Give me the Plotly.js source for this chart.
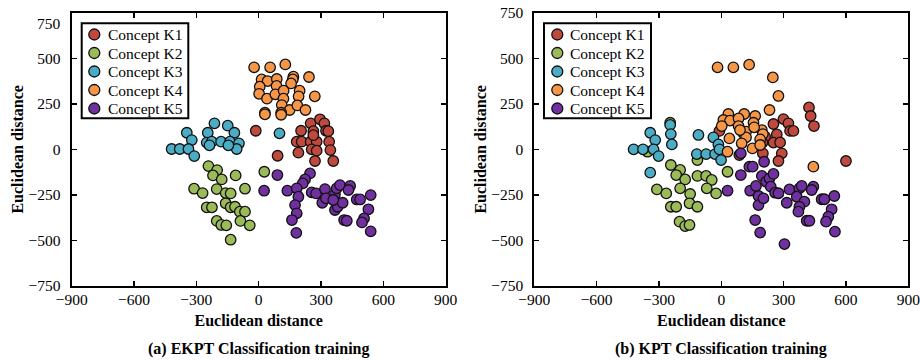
<!DOCTYPE html>
<html>
<head>
<meta charset="utf-8">
<script src="https://cdn.plot.ly/plotly-3.0.1.min.js"></script>
<style>html,body{margin:0;padding:0;background:#fff;}#chart{width:921px;height:361px;}</style>
</head>
<body>
<div id="chart"></div>
<script>
// ---------- DATA ----------
const concepts = ['Concept K1', 'Concept K2', 'Concept K3', 'Concept K4', 'Concept K5'];
const xTicks = [-900, -600, -300, 0, 300, 600, 900];
const yTicksLeft = [-750, -500, -250, 0, 250, 500];
const yTicksRight = [-750, -500, -250, 0, 250, 500, 750];
const captions = ['(a) EKPT Classification training', '(b) KPT Classification training'];
const axisTitle = 'Euclidean distance';

// (a) EKPT
const ekptK1x = [250, 295, 316, 204, 263, 324, 335, 183, 207, 250, 279, 339, 191, 255, 279, 345, 271, 359, 91, -14, 263];
const ekptK1y = [143, 165, 143, 102, 100, 102, 100, 42, 42, 42, 42, 42, -18, 0, -7, -4, -64, -64, -35, 102, 78];
const ekptK2x = [-242, -200, -220, -178, -111, -311, -270, -202, -159, -135, -66, -159, -135, -114, -91, -66, -250, -225, -202, -180, -156, -88, -43, -135, 27];
const ekptK2y = [-92, -114, -143, -165, -143, -216, -240, -218, -240, -242, -216, -296, -318, -315, -342, -342, -318, -318, -393, -415, -417, -393, -417, -496, -123];
const ekptK3x = [-213, -149, -117, -346, -245, -322, -419, -380, -338, -310, -250, -226, -181, -138, -95, -106, 100, -237, -146];
const ekptK3y = [143, 130, 91, 91, 91, 51, 2, 2, 2, -37, 37, 42, 42, 42, 33, 2, 88, 22, 22];
const ekptK4x = [-22, 55, 128, 167, 164, 242, 14, 43, 87, 5, 86, 156, 197, 2, 40, 80, 120, 192, 270, 119, 111, 149, 186, 225, 30, 30, 108, 108];
const ekptK4y = [450, 450, 466, 399, 384, 397, 384, 375, 386, 344, 348, 362, 322, 305, 278, 302, 322, 291, 291, 278, 243, 216, 241, 216, 201, 192, 201, 190];
const ekptK5x = [90, 26, 138, 247, 223, 212, 183, 191, 175, 183, 160, 181, 255, 276, 306, 319, 324, 367, 375, 391, 367, 380, 404, 440, 432, 472, 488, 539, 528, 507, 497, 539, 411, 424, 359];
const ekptK5y = [-141, -227, -227, -132, -165, -187, -214, -260, -306, -351, -388, -458, -236, -242, -293, -218, -269, -247, -214, -196, -333, -315, -293, -201, -223, -275, -275, -251, -329, -379, -401, -450, -388, -392, -278];

// (b) KPT
const kptK1x = [-9, 87, 200, 251, 267, 251, 283, 291, 275, 299, 323, 331, 347, 422, 430, 446, 600, 211, 198];
const kptK1y = [101, -31, -22, 139, 82, 37, 38, -22, -64, 166, 143, 101, 101, 230, 183, 128, -64, 70, 37];
const kptK2x = [-246, -355, -243, -198, -217, -174, -115, -115, -73, -46, -310, -265, -198, -150, -70, -25, -153, -115, -243, -217, -201, -174, -153, 30];
const kptK2y = [146, -13, -86, -113, -141, -165, -59, -146, -146, -168, -220, -242, -214, -245, -214, -242, -296, -315, -315, -315, -397, -421, -415, -123];
const kptK3x = [-422, -377, -342, -318, -326, -302, -342, -246, -243, -238, -110, -38, -14, -118, -73, -30, -1, 107, -9];
const kptK3y = [0, 0, 91, 51, 0, -37, -128, 134, 84, 27, 79, 66, 27, -26, -26, -26, -59, 88, 0];
const kptK4x = [-18, 58, 134, 248, 275, 232, 34, 110, 163, 10, 42, 83, 155, 2, 83, 119, 195, 200, 39, 119, 187, 150, 30, 187, 443, 98, 90, 158];
const kptK4y = [450, 450, 465, 395, 293, 216, 194, 194, 183, 161, 158, 170, 146, 128, 128, 97, 106, 84, 60, 66, 55, 5, -13, 24, -95, 33, 106, 121];
const kptK5x = [94, 206, 135, 151, 94, 30, 139, 167, 179, 179, 163, 187, 304, 195, 216, 232, 251, 238, 259, 275, 315, 328, 376, 387, 363, 400, 376, 371, 443, 483, 496, 544, 531, 515, 504, 411, 424, 547, 203, 435];
const kptK5y = [-22, -68, -95, -95, -141, -227, -227, -201, -256, -306, -388, -457, -520, -146, -178, -159, -135, -205, -238, -241, -293, -220, -214, -201, -260, -287, -315, -342, -205, -274, -274, -256, -329, -370, -397, -392, -392, -452, -269, -223];

// ---------- STYLE ----------
const colors = ['#c0493d', '#9bbb59', '#4bacc6', '#f79646', '#7030a0'];
const W = 921, H = 361;
const FONT = 'Liberation Serif, "Times New Roman", serif';
const px = p => p / W;
const py = p => 1 - p / H;

const leftSets = [[ekptK1x, ekptK1y], [ekptK2x, ekptK2y], [ekptK3x, ekptK3y], [ekptK4x, ekptK4y], [ekptK5x, ekptK5y]];
const rightSets = [[kptK1x, kptK1y], [kptK2x, kptK2y], [kptK3x, kptK3y], [kptK4x, kptK4y], [kptK5x, kptK5y]];

const traces = [];
function addTraces(sets, xa, ya) {
  sets.forEach((s, i) => {
    traces.push({
      type: 'scatter', mode: 'markers', name: concepts[i],
      x: s[0], y: s[1], xaxis: xa, yaxis: ya, showlegend: false,
      marker: {size: 10.5, color: colors[i], line: {color: '#111', width: 1.3}},
      hoverinfo: 'x+y+name'
    });
  });
}
addTraces(leftSets, 'x', 'y');
addTraces(rightSets, 'x2', 'y2');

const frame = {left: [71.7, 445.7], right: [534.3, 908.3], top: 12.7, bottom: 286};

function xAxis(dom, anchor) {
  return {
    domain: [px(dom[0]), px(dom[1])], anchor: anchor, range: [-900, 900],
    tickvals: xTicks, ticks: 'inside', ticklen: 5, tickwidth: 1.5, tickcolor: '#000',
    showline: true, linecolor: '#000', linewidth: 2, mirror: 'ticks',
    showgrid: false, zeroline: false, ticklabelstandoff: -2,
    tickfont: {family: FONT, size: 15.5, color: '#000'},
    title: {text: axisTitle, standoff: 8, font: {family: FONT, size: 16, color: '#000', weight: 'bold'}}
  };
}
function yAxis(anchor, tv) {
  return {
    domain: [py(frame.bottom), py(frame.top)], anchor: anchor, range: [-750, 750],
    tickvals: tv, ticks: 'inside', ticklen: 5, tickwidth: 1.5, tickcolor: '#000',
    showline: true, linecolor: '#000', linewidth: 2, mirror: 'ticks',
    showgrid: false, zeroline: false, ticklabelstandoff: 6,
    tickfont: {family: FONT, size: 15.5, color: '#000'},
    title: {text: axisTitle, standoff: 1, font: {family: FONT, size: 16, color: '#000', weight: 'bold'}}
  };
}

const shapes = [];
const annotations = [];
function addLegend(boxL, boxR, markerX, textX) {
  shapes.push({type: 'rect', xref: 'paper', yref: 'paper',
    x0: px(boxL), x1: px(boxR), y0: py(118.3), y1: py(23.3),
    line: {color: '#000', width: 2}, fillcolor: '#fff', layer: 'above'});
  concepts.forEach((c, i) => {
    const yc = 34.5 + i * 18.5;
    shapes.push({type: 'circle', xref: 'paper', yref: 'paper',
      x0: px(markerX - 5.5), x1: px(markerX + 5.5), y0: py(yc + 5.5), y1: py(yc - 5.5),
      fillcolor: colors[i], line: {color: '#111', width: 1.3}, layer: 'above'});
    annotations.push({xref: 'paper', yref: 'paper', x: px(textX), y: py(yc),
      xanchor: 'left', yanchor: 'middle', showarrow: false, text: c,
      font: {family: FONT, size: 15.5, color: '#000'}});
  });
}
addLegend(81.7, 188.3, 94.3, 105.5);
addLegend(544, 651, 557.3, 568.2);

captions.forEach((c, i) => {
  const f = i === 0 ? frame.left : frame.right;
  annotations.push({xref: 'paper', yref: 'paper', x: px((f[0] + f[1]) / 2), y: py(349),
    xanchor: 'center', yanchor: 'middle', showarrow: false, text: c,
    font: {family: FONT, size: 16, color: '#000', weight: 'bold'}});
});
// left panel top tick label sits slightly below the frame corner
annotations.push({xref: 'paper', yref: 'paper', x: px(62.8), y: py(23), xanchor: 'right', yanchor: 'middle',
  showarrow: false, text: '750', font: {family: FONT, size: 15.5, color: '#000'}});

const layout = {
  width: W, height: H, margin: {l: 0, r: 0, t: 0, b: 0},
  paper_bgcolor: '#fff', plot_bgcolor: '#fff', showlegend: false,
  xaxis: xAxis(frame.left, 'y'), yaxis: yAxis('x', yTicksLeft),
  xaxis2: xAxis(frame.right, 'y2'), yaxis2: yAxis('x2', yTicksRight),
  shapes: shapes, annotations: annotations
};

Plotly.newPlot('chart', traces, layout, {displayModeBar: false, staticPlot: true});
</script>
</body>
</html>
